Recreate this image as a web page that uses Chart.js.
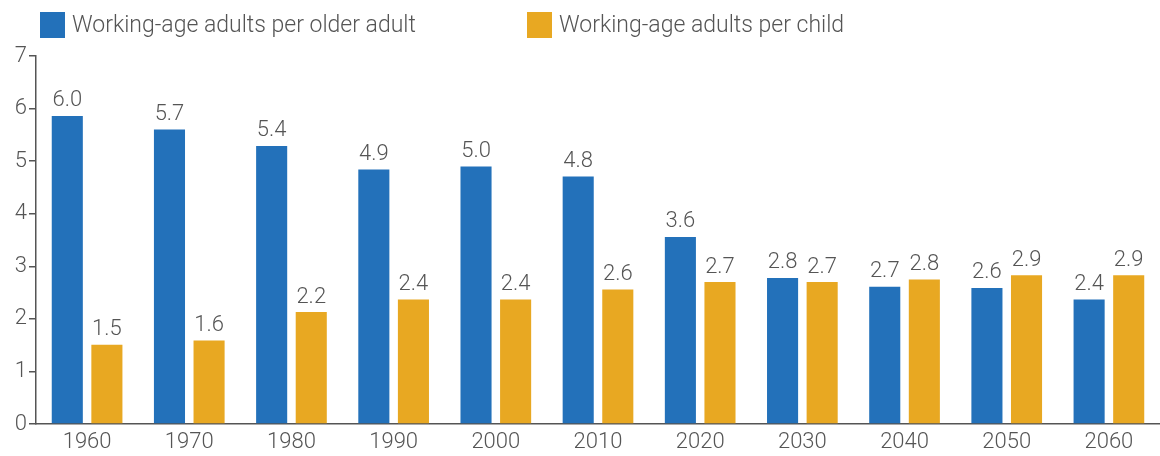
<!DOCTYPE html>
<html>
<head>
<meta charset="utf-8">
<script src="https://cdn.jsdelivr.net/npm/chart.js@4.4.1/dist/chart.umd.min.js"></script>
<style>
  html, body { margin: 0; padding: 0; background: #fff; }
  #wrap { position: relative; width: 1160px; height: 456px; }
  #legend { position: absolute; left: 40px; top: 11px; display: flex; font-family: Roboto, sans-serif; font-weight: 300; font-size: 23px; color: #555; }
  .item { display: flex; align-items: center; width: 487px; }
  .box { width: 25px; height: 26px; margin-right: 7px; }
</style>
</head>
<body>
<div id="wrap">
  <div id="legend"></div>
  <canvas id="myChart" width="1160" height="456"></canvas>
</div>
<script>
// values (bar heights) and the printed labels
const years = ['1960','1970','1980','1990','2000','2010','2020','2030','2040','2050','2060'];
const olderAdult = [5.86, 5.60, 5.29, 4.84, 4.90, 4.71, 3.56, 2.78, 2.61, 2.59, 2.37];
const perChild = [1.51, 1.59, 2.13, 2.37, 2.37, 2.56, 2.70, 2.70, 2.75, 2.83, 2.83];
const olderLabels = ['6.0','5.7','5.4','4.9','5.0','4.8','3.6','2.8','2.7','2.6','2.4'];
const childLabels = ['1.5','1.6','2.2','2.4','2.4','2.6','2.7','2.7','2.8','2.9','2.9'];
const yTicks = [0, 1, 2, 3, 4, 5, 6, 7];

const blue = '#2371ba';
const orange = '#e8a822';
const grey = '#555';
const font = 'Roboto, sans-serif';

// draws the value above every bar
const barLabels = {
    id: 'barLabels',
    afterDatasetsDraw(chart){
        const ctx = chart.ctx;
        ctx.save();
        ctx.font = '300 22px ' + font;
        ctx.fillStyle = grey;
        ctx.textAlign = 'center';
        ctx.textBaseline = 'bottom';
        chart.data.datasets.forEach((ds, i) => {
            chart.getDatasetMeta(i).data.forEach((bar, j) => {
                ctx.fillText(ds.valueLabels[j], bar.x, bar.y - 4);
            });
        });
        ctx.restore();
    }
};

const ctx = document.getElementById('myChart').getContext('2d');
const myChart = new Chart(ctx, {
    type: 'bar',
    data: {
        labels: years,
        datasets: [{
            label: 'Working-age adults per older adult',
            data: olderAdult,
            valueLabels: olderLabels,
            backgroundColor: blue
        }, {
            label: 'Working-age adults per child',
            data: perChild,
            valueLabels: childLabels,
            backgroundColor: orange
        }]
    },
    options: {
        responsive: false,
        animation: false,
        categoryPercentage: 0.775,
        barPercentage: 0.785,
        layout: {
            padding: { top: 56, right: 0, bottom: -4.5, left: 0 }
        },
        plugins: {
            legend: { display: false },
            tooltip: { enabled: false }
        },
        scales: {
            x: {
                grid: { display: false, drawTicks: false },
                border: { color: grey, width: 1.5 },
                ticks: {
                    color: grey,
                    padding: 5,
                    font: { family: font, size: 22, weight: 300 }
                }
            },
            y: {
                min: 0,
                max: 7,
                afterBuildTicks: (s) => { s.ticks = yTicks.map(v => ({ value: v })); },
                afterFit: (s) => { s.width = 36; },
                grid: { drawOnChartArea: false, tickLength: 7, color: grey, lineWidth: 1.5 },
                border: { color: grey, width: 1.5 },
                ticks: {
                    color: grey,
                    padding: 2,
                    font: { family: font, size: 22, weight: 300 }
                }
            }
        }
    },
    plugins: [barLabels]
});

// html legend built from the datasets
const legend = document.getElementById('legend');
myChart.data.datasets.forEach((ds) => {
    const item = document.createElement('div');
    item.className = 'item';
    const box = document.createElement('span');
    box.className = 'box';
    box.style.background = ds.backgroundColor;
    const txt = document.createElement('span');
    txt.textContent = ds.label;
    item.appendChild(box);
    item.appendChild(txt);
    legend.appendChild(item);
});
</script>
</body>
</html>
